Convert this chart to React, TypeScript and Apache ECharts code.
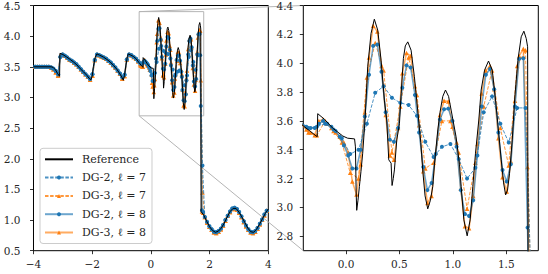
import React, { useEffect, useRef } from "react";
import * as echarts from "echarts";

// ---------- data ----------
const LEGEND_NAMES = ["Reference", "DG-2, ℓ = 7", "DG-3, ℓ = 7", "DG-2, ℓ = 8", "DG-3, ℓ = 8"];

const ZOOM_X = [-0.4, 1.8];
const ZOOM_Y = [2.7, 4.4];
const ZOOM_X_TICKS = [0.0, 0.5, 1.0, 1.5];
const ZOOM_Y_TICKS = [2.8, 3.0, 3.2, 3.4, 3.6, 3.8, 4.0, 4.2, 4.4];

// Reference solution (black line)
const REF_X = [
  -4.0, -3.4, -3.33, -3.25, -3.18, -3.11, -3.1, -3.0, -2.87, -2.75, -2.64, -2.52, -2.41, -2.3, -2.18, -2.1, -2.04,
  -2.0, -1.96, -1.9, -1.84, -1.75, -1.62, -1.5, -1.39, -1.27, -1.16, -1.05, -0.99, -0.94, -0.9, -0.85, -0.8, -0.77,
  -0.68, -0.6, -0.5, -0.4, -0.33, -0.27, -0.265, -0.2, -0.125, -0.03, 0.015, 0.08, 0.088, 0.095, 0.1, 0.112, 0.125,
  0.14, 0.156, 0.178, 0.203, 0.234, 0.265, 0.297, 0.328, 0.359, 0.381, 0.4, 0.422, 0.431, 0.442, 0.453, 0.475, 0.5,
  0.516, 0.537, 0.555, 0.578, 0.609, 0.64, 0.671, 0.7, 0.72, 0.74, 0.765, 0.79, 0.812, 0.828, 0.859, 0.88, 0.906,
  0.931, 0.96, 0.984, 1.03, 1.062, 1.078, 1.103, 1.134, 1.162, 1.187, 1.212, 1.243, 1.265, 1.297, 1.334, 1.369, 1.4,
  1.425, 1.453, 1.475, 1.494, 1.512, 1.531, 1.556, 1.578, 1.609, 1.64, 1.665, 1.687, 1.7, 1.705, 1.71, 1.8, 1.9, 2.0,
  2.1, 2.2, 2.3, 2.4, 2.5, 2.6, 2.7, 2.8, 2.9, 3.0, 3.1, 3.2, 3.3, 3.4, 3.5, 3.6, 3.7, 3.8, 3.9, 4.0,
];
const REF_Y = [
  3.5, 3.5, 3.49, 3.45, 3.39, 3.345, 3.72, 3.7, 3.66, 3.62, 3.58, 3.53, 3.47, 3.42, 3.36, 3.31, 3.29,
  3.35, 3.5, 3.65, 3.71, 3.69, 3.66, 3.62, 3.58, 3.52, 3.46, 3.38, 3.33, 3.28, 3.36, 3.53, 3.67, 3.71,
  3.69, 3.67, 3.63, 3.565, 3.525, 3.49, 3.65, 3.61, 3.55, 3.495, 3.48, 3.475, 3.42, 3.1, 2.98, 3.05, 3.145,
  3.25, 3.376, 3.606, 3.975, 4.206, 4.305, 4.229, 4.021, 3.744, 3.606, 3.33, 3.307, 3.152, 3.2, 3.26, 3.468, 3.58,
  3.79, 4.033, 4.12, 4.148, 4.09, 3.906, 3.675, 3.45, 3.24, 3.08, 2.99, 3.05, 3.145, 3.3, 3.537, 3.66, 3.77,
  3.814, 3.77, 3.675, 3.49, 3.3, 3.145, 2.914, 2.803, 2.914, 3.145, 3.376, 3.606, 3.814, 3.952, 4.015, 3.952, 3.745,
  3.55, 3.33, 3.17, 3.087, 3.12, 3.237, 3.468, 3.745, 4.021, 4.183, 4.222, 4.171, 4.114, 2.2, 1.14, 1.08, 0.98, 0.89,
  0.83, 0.8, 0.82, 0.87, 0.95, 1.05, 1.14, 1.19, 1.19, 1.13, 1.05, 0.96, 0.87, 0.81, 0.8, 0.85, 0.93, 1.02, 1.11, 1.18,
];

// Cell positions outside the zoomed window (left part and right part)
const X_OUT_L = [
  -3.945, -3.867, -3.789, -3.711, -3.633, -3.555, -3.477, -3.398, -3.32, -3.242, -3.164, -3.086, -3.008, -2.93,
  -2.852, -2.773, -2.695, -2.617, -2.539, -2.461, -2.383, -2.305, -2.227, -2.148, -2.07, -1.992, -1.914, -1.836,
  -1.758, -1.68, -1.602, -1.523, -1.445, -1.367, -1.289, -1.211, -1.133, -1.055, -0.977, -0.898, -0.82, -0.742,
  -0.664, -0.586, -0.508, -0.43,
];
const X_OUT_R = [
  1.836, 1.914, 1.992, 2.07, 2.148, 2.227, 2.305, 2.383, 2.461, 2.539, 2.617, 2.695, 2.773, 2.852, 2.93, 3.008,
  3.086, 3.164, 3.242, 3.32, 3.398, 3.477, 3.555, 3.633, 3.711, 3.789, 3.867, 3.945,
];
const DG2_OUT_L = [
  3.5, 3.5, 3.5, 3.5, 3.5, 3.5, 3.5, 3.49, 3.47, 3.43, 3.38, 3.66, 3.7, 3.68, 3.65, 3.62, 3.6, 3.57, 3.54, 3.5, 3.46,
  3.42, 3.38, 3.34, 3.3, 3.38, 3.61, 3.7, 3.69, 3.67, 3.65, 3.63, 3.6, 3.57, 3.53, 3.49, 3.44, 3.39, 3.33, 3.37, 3.62,
  3.7, 3.69, 3.66, 3.63, 3.59,
];
const DG3_OUT_L = [
  3.5, 3.5, 3.5, 3.5, 3.5, 3.5, 3.5, 3.49, 3.46, 3.41, 3.36, 3.68, 3.7, 3.68, 3.65, 3.62, 3.6, 3.57, 3.54, 3.5, 3.46,
  3.42, 3.38, 3.34, 3.29, 3.36, 3.61, 3.7, 3.69, 3.67, 3.65, 3.63, 3.6, 3.57, 3.53, 3.49, 3.44, 3.39, 3.31, 3.35, 3.62,
  3.7, 3.69, 3.66, 3.63, 3.59,
];
const DG2_OUT_R = [
  1.05, 0.97, 0.9, 0.85, 0.81, 0.8, 0.82, 0.86, 0.92, 1.0, 1.07, 1.14, 1.19, 1.2, 1.18, 1.13, 1.06, 0.98, 0.91, 0.85,
  0.81, 0.8, 0.82, 0.87, 0.94, 1.01, 1.09, 1.15,
];
const DG3_OUT_R = [
  1.05, 0.96, 0.89, 0.84, 0.8, 0.79, 0.81, 0.85, 0.91, 0.99, 1.07, 1.13, 1.18, 1.19, 1.17, 1.12, 1.05, 0.97, 0.9, 0.84,
  0.8, 0.79, 0.81, 0.86, 0.93, 1.01, 1.08, 1.15,
];

// Level 7 cells inside the zoomed window
const X_L7 = [
  -0.352, -0.273, -0.195, -0.117, -0.039, 0.039, 0.117, 0.195, 0.273, 0.352, 0.43, 0.508, 0.586, 0.664, 0.742, 0.82,
  0.898, 0.977, 1.055, 1.133, 1.211, 1.289, 1.367, 1.445, 1.523, 1.602, 1.68, 1.758,
];
const DG2_L7 = [
  3.55, 3.56, 3.58, 3.54, 3.48, 3.37, 3.4, 3.58, 3.795, 3.84, 3.76, 3.725, 3.71, 3.635, 3.455, 3.35, 3.42, 3.44,
  3.335, 3.2, 3.275, 3.66, 3.77, 3.58, 3.45, 3.69, 3.69, 1.89,
];
const DG3_L7 = [
  3.52, 3.5, 3.6, 3.53, 3.45, 3.24, 3.2, 3.9, 4.14, 3.95, 3.38, 3.7, 4.04, 3.78, 3.27, 3.31, 3.6, 3.6, 3.38, 2.99,
  3.31, 3.7, 3.95, 3.55, 3.29, 3.98, 4.09, 1.45,
];

// Level 8 cells inside the zoomed window
const X_L8 = [
  -0.371, -0.332, -0.293, -0.254, -0.215, -0.176, -0.137, -0.098, -0.059, -0.02, 0.02, 0.059, 0.098, 0.137, 0.176,
  0.215, 0.254, 0.293, 0.332, 0.371, 0.41, 0.449, 0.488, 0.527, 0.566, 0.605, 0.645, 0.684, 0.723, 0.762, 0.801, 0.84,
  0.879, 0.918, 0.957, 0.996, 1.035, 1.074, 1.113, 1.152, 1.191, 1.23, 1.27, 1.309, 1.348, 1.387, 1.426, 1.465, 1.504,
  1.543, 1.582, 1.621, 1.66, 1.699, 1.738, 1.777,
];
const DG2_L8 = [
  3.56, 3.55, 3.55, 3.58, 3.6, 3.58, 3.56, 3.53, 3.49, 3.43,
  3.36, 3.27, 3.27, 3.4, 3.63, 3.92, 4.12, 4.13, 3.94, 3.66,
  3.47, 3.455, 3.55, 3.83, 3.985, 3.97, 3.78, 3.52, 3.28, 3.12,
  3.17, 3.37, 3.61, 3.68, 3.685, 3.6, 3.42, 3.12, 2.955, 2.94,
  3.05, 3.36, 3.7, 3.92, 3.96, 3.82, 3.52, 3.26, 3.18, 3.3,
  3.7, 4.03, 4.035, 2.86, 1.16, 1.13,
];
const DG3_L8 = [
  3.54, 3.52, 3.5, 3.6, 3.61, 3.58, 3.55, 3.52, 3.49, 3.45,
  3.38, 3.18, 3.09, 3.3, 3.66, 4.04, 4.26, 4.22, 3.98, 3.64,
  3.36, 3.33, 3.55, 3.93, 4.07, 4.05, 3.84, 3.57, 3.25, 3.03,
  3.08, 3.38, 3.64, 3.74, 3.735, 3.56, 3.45, 3.13, 2.87, 2.855,
  3.08, 3.44, 3.79, 3.95, 3.98, 3.82, 3.48, 3.21, 3.11, 3.32,
  3.74, 4.05, 4.1, 3.28, 1.14, 1.12,
];

// ---------- styling ----------
const BLUE = "#1f77b4";
const ORANGE = "#ff7f0e";
const FONT = "DejaVu Serif";
const BOX_COLOR = "#b5b5b5";
const TEXT_COLOR = "#262626";

const zip = (xs: number[], ys: number[]) => xs.map((x, i) => [x, ys[i]]);

export default function App() {
  const ref = useRef<HTMLDivElement>(null);

  useEffect(() => {
    if (!ref.current) return;
    const chart = echarts.init(ref.current, null, { renderer: "svg" });

    const refData = zip(REF_X, REF_Y);
    const dg2l7 = [...zip(X_OUT_L, DG2_OUT_L), ...zip(X_L7, DG2_L7), ...zip(X_OUT_R, DG2_OUT_R)];
    const dg3l7 = [...zip(X_OUT_L, DG3_OUT_L), ...zip(X_L7, DG3_L7), ...zip(X_OUT_R, DG3_OUT_R)];
    const dg2l8 = [...zip(X_OUT_L, DG2_OUT_L), ...zip(X_L8, DG2_L8), ...zip(X_OUT_R, DG2_OUT_R)];
    const dg3l8 = [...zip(X_OUT_L, DG3_OUT_L), ...zip(X_L8, DG3_L8), ...zip(X_OUT_R, DG3_OUT_R)];

    const minus = (s: string) => s.replace("-", "\u2212");
    const labelBase = { fontFamily: FONT, fontSize: 10.5, color: TEXT_COLOR };
    const tickBase = { show: true, inside: false, length: 3.5, lineStyle: { color: "#000", width: 0.8 } };
    const hiddenLine = { show: false, onZero: false };

    const seriesFor = (g: number) => [
      {
        name: LEGEND_NAMES[2], type: "line", xAxisIndex: g, yAxisIndex: g, data: dg3l7,
        symbol: "triangle", symbolSize: 4.5, showAllSymbol: true,
        lineStyle: { color: ORANGE, width: 1, type: [3.5, 1.6], opacity: 0.8 },
        itemStyle: { color: ORANGE }, z: 2, silent: true,
      },
      {
        name: LEGEND_NAMES[4], type: "line", xAxisIndex: g, yAxisIndex: g, data: dg3l8,
        symbol: "triangle", symbolSize: 4.5, showAllSymbol: true,
        lineStyle: { color: ORANGE, width: 1.5, opacity: 0.65 },
        itemStyle: { color: ORANGE }, z: 3, silent: true,
      },
      {
        name: LEGEND_NAMES[1], type: "line", xAxisIndex: g, yAxisIndex: g, data: dg2l7,
        symbol: "circle", symbolSize: 4, showAllSymbol: true,
        lineStyle: { color: BLUE, width: 1, type: [3.5, 1.6], opacity: 0.8 },
        itemStyle: { color: BLUE }, z: 4, silent: true,
      },
      {
        name: LEGEND_NAMES[3], type: "line", xAxisIndex: g, yAxisIndex: g, data: dg2l8,
        symbol: "circle", symbolSize: 4, showAllSymbol: true,
        lineStyle: { color: BLUE, width: 1.5, opacity: 0.65 },
        itemStyle: { color: BLUE }, z: 5, silent: true,
      },
      {
        name: LEGEND_NAMES[0], type: "line", xAxisIndex: g, yAxisIndex: g, data: refData,
        symbol: "none", lineStyle: { color: "#000", width: 1 }, itemStyle: { color: "#000" }, z: 6, silent: true,
      },
    ];

    const boxData = [
      [ZOOM_X[0], ZOOM_Y[0]],
      [ZOOM_X[1], ZOOM_Y[0]],
      [ZOOM_X[1], ZOOM_Y[1]],
      [ZOOM_X[0], ZOOM_Y[1]],
      [ZOOM_X[0], ZOOM_Y[0]],
    ];

    const legendData = LEGEND_NAMES.map((n, i) =>
      i === 0 ? { name: n, itemStyle: { color: "rgba(0,0,0,0)", opacity: 0, borderWidth: 0 } } : { name: n }
    );

    const option: any = {
      animation: false,
      backgroundColor: "#fff",
      grid: [
        { left: 33.5, top: 5.3, width: 234.8, height: 245.4, show: true, borderColor: "#000", borderWidth: 1, backgroundColor: "transparent" },
        { left: 303.3, top: 5.3, width: 235, height: 245.4, show: true, borderColor: "#000", borderWidth: 1, backgroundColor: "transparent" },
      ],
      xAxis: [
        {
          type: "value", gridIndex: 0, min: -4, max: 4, interval: 2,
          axisLine: hiddenLine, splitLine: { show: false }, axisTick: tickBase,
          axisLabel: { ...labelBase, margin: 8, showMinLabel: true, showMaxLabel: true, formatter: (v: number) => minus(String(v)) },
        },
        {
          type: "value", gridIndex: 1, min: ZOOM_X[0], max: ZOOM_X[1],
          axisLine: hiddenLine, splitLine: { show: false },
          axisTick: { ...tickBase, customValues: ZOOM_X_TICKS },
          axisLabel: { ...labelBase, margin: 8, customValues: ZOOM_X_TICKS, formatter: (v: number) => minus(v.toFixed(1)) },
        },
      ],
      yAxis: [
        {
          type: "value", gridIndex: 0, min: 0.5, max: 4.5, interval: 0.5,
          axisLine: hiddenLine, splitLine: { show: false }, axisTick: tickBase,
          axisLabel: { ...labelBase, margin: 13, showMinLabel: true, showMaxLabel: true, formatter: (v: number) => v.toFixed(1) },
        },
        {
          type: "value", gridIndex: 1, min: ZOOM_Y[0], max: ZOOM_Y[1],
          axisLine: hiddenLine, splitLine: { show: false },
          axisTick: { ...tickBase, customValues: ZOOM_Y_TICKS },
          axisLabel: { ...labelBase, margin: 10, customValues: ZOOM_Y_TICKS, formatter: (v: number) => v.toFixed(1) },
        },
      ],
      legend: {
        data: legendData,
        orient: "vertical",
        left: 40,
        top: 148.3,
        padding: [4, 6, 4, 4],
        itemGap: 4.3,
        itemWidth: 28,
        itemHeight: 5,
        backgroundColor: "rgba(255,255,255,0.85)",
        borderColor: "#cccccc",
        borderWidth: 1,
        borderRadius: 3,
        selectedMode: false,
        textStyle: { fontFamily: FONT, fontSize: 11, color: TEXT_COLOR, lineHeight: 14, padding: [0, 0, 0, 4] },
      },
      series: [
        {
          name: "zoom-box", type: "line", xAxisIndex: 0, yAxisIndex: 0, data: boxData, symbol: "none",
          lineStyle: { color: BOX_COLOR, width: 1 }, z: 1, silent: true, clip: false,
        },
        ...seriesFor(0),
        ...seriesFor(1),
      ],
    };

    chart.setOption(option);

    const a0 = chart.convertToPixel({ gridIndex: 0 } as any, [ZOOM_X[0], ZOOM_Y[1]]) as number[];
    const a1 = chart.convertToPixel({ gridIndex: 1 } as any, [ZOOM_X[0], ZOOM_Y[1]]) as number[];
    const b0 = chart.convertToPixel({ gridIndex: 0 } as any, [ZOOM_X[0], ZOOM_Y[0]]) as number[];
    const b1 = chart.convertToPixel({ gridIndex: 1 } as any, [ZOOM_X[0], ZOOM_Y[0]]) as number[];

    chart.setOption({
      graphic: [
        { type: "line", z: 0, silent: true, shape: { x1: a0[0], y1: a0[1], x2: a1[0], y2: a1[1] }, style: { stroke: BOX_COLOR, lineWidth: 1 } },
        { type: "line", z: 0, silent: true, shape: { x1: b0[0], y1: b0[1], x2: b1[0], y2: b1[1] }, style: { stroke: BOX_COLOR, lineWidth: 1 } },
      ],
    });

    return () => chart.dispose();
  }, []);

  return <div ref={ref} style={{ position: "fixed", left: 0, top: 0, width: 548, height: 274 }} />;
}
